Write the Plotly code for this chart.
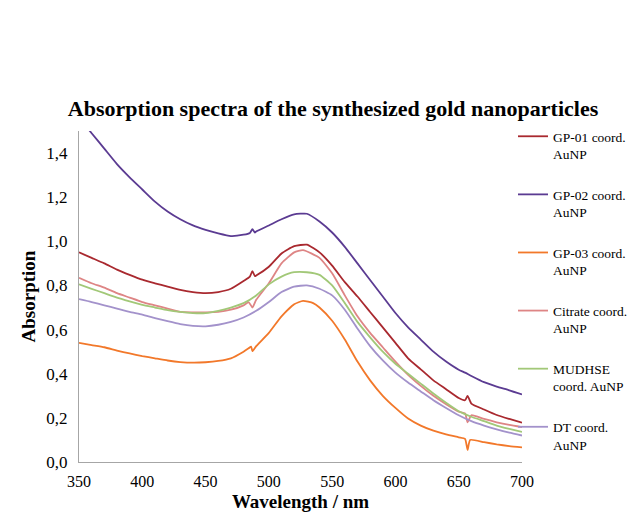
import plotly.graph_objects as go

# ---------------- data ----------------
wl_gp01 = [350, 360, 370, 380, 390, 400, 410, 420, 430, 440, 450, 460, 470, 480, 485, 487, 489, 490,
           500, 510, 520, 530, 540, 550, 560, 570, 580, 590, 600, 610, 620, 630, 640, 650, 655, 657,
           660, 670, 680, 690, 700]
abs_gp01 = [0.95, 0.925, 0.90, 0.872, 0.848, 0.826, 0.81, 0.795, 0.78, 0.77, 0.765, 0.77, 0.785, 0.82, 0.84, 0.865, 0.842, 0.845,
            0.885, 0.945, 0.978, 0.985, 0.95, 0.89, 0.815, 0.75, 0.68, 0.61, 0.54, 0.47, 0.42, 0.37, 0.33, 0.29, 0.28, 0.30,
            0.265, 0.238, 0.213, 0.195, 0.178]

wl_gp02 = [350, 360, 370, 380, 390, 400, 410, 420, 430, 440, 450, 460, 470, 480, 485, 487, 489, 490,
           500, 510, 520, 530, 540, 550, 560, 570, 580, 590, 600, 610, 620, 630, 640, 650, 655, 660,
           670, 680, 690, 700]
abs_gp02 = [1.56, 1.49, 1.42, 1.35, 1.29, 1.235, 1.18, 1.135, 1.10, 1.072, 1.052, 1.036, 1.024, 1.03, 1.038, 1.055, 1.04, 1.045,
            1.072, 1.10, 1.122, 1.125, 1.09, 1.04, 0.975, 0.90, 0.825, 0.75, 0.675, 0.61, 0.555, 0.50, 0.455, 0.418, 0.405, 0.39,
            0.362, 0.342, 0.325, 0.306]

wl_gp03 = [350, 360, 370, 380, 390, 400, 410, 420, 430, 440, 450, 460, 470, 480, 484, 486, 487, 490,
           500, 510, 520, 527, 535, 540, 550, 560, 570, 580, 590, 600, 610, 620, 630, 640, 650, 655, 657,
           659, 670, 680, 690, 700]
abs_gp03 = [0.54, 0.53, 0.52, 0.505, 0.492, 0.48, 0.47, 0.46, 0.453, 0.45, 0.452, 0.458, 0.47, 0.50, 0.515, 0.523, 0.502, 0.525,
            0.585, 0.66, 0.715, 0.73, 0.72, 0.70, 0.64, 0.555, 0.455, 0.37, 0.30, 0.245, 0.197, 0.165, 0.142, 0.125, 0.112, 0.105, 0.055,
            0.10, 0.09, 0.08, 0.072, 0.066]

wl_cit = [350, 360, 370, 380, 390, 400, 410, 420, 430, 440, 450, 460, 470, 480, 484, 487, 490,
          500, 510, 520, 527, 540, 550, 560, 570, 580, 590, 600, 610, 620, 630, 640, 650, 655, 657,
          660, 670, 680, 690, 700]
abs_cit = [0.835, 0.81, 0.79, 0.765, 0.745, 0.725, 0.71, 0.695, 0.68, 0.678, 0.678, 0.68, 0.69, 0.71, 0.725, 0.70, 0.735,
           0.81, 0.90, 0.95, 0.96, 0.925, 0.855, 0.755, 0.66, 0.585, 0.52, 0.455, 0.395, 0.345, 0.30, 0.262, 0.228, 0.22, 0.18,
           0.212, 0.195, 0.18, 0.168, 0.158]

wl_mud = [350, 360, 370, 380, 390, 400, 410, 420, 430, 440, 450, 460, 470, 480, 490,
          500, 510, 520, 530, 540, 550, 560, 570, 580, 590, 600, 610, 620, 630, 640, 650,
          660, 670, 680, 690, 700]
abs_mud = [0.805, 0.785, 0.765, 0.745, 0.728, 0.712, 0.70, 0.688, 0.68, 0.675, 0.675, 0.685, 0.70, 0.72, 0.755,
           0.805, 0.84, 0.86, 0.86, 0.848, 0.80, 0.72, 0.635, 0.565, 0.50, 0.445, 0.40, 0.355, 0.31, 0.268, 0.23,
           0.205, 0.185, 0.165, 0.15, 0.136]

wl_dt = [350, 360, 370, 380, 390, 400, 410, 420, 430, 440, 450, 460, 470, 480, 490,
         500, 510, 520, 530, 540, 550, 560, 570, 580, 590, 600, 610, 620, 630, 640, 650,
         660, 670, 680, 690, 700]
abs_dt = [0.738, 0.725, 0.71, 0.695, 0.68, 0.668, 0.652, 0.638, 0.625, 0.617, 0.615, 0.622, 0.635, 0.655, 0.685,
          0.725, 0.77, 0.795, 0.80, 0.785, 0.755, 0.69, 0.605, 0.525, 0.46, 0.405, 0.36, 0.32, 0.28, 0.245, 0.212,
          0.185, 0.165, 0.148, 0.133, 0.12]

series = [
    ("GP-01 coord.<br>AuNP", wl_gp01, abs_gp01, "#A9292F"),
    ("GP-02 coord.<br>AuNP", wl_gp02, abs_gp02, "#5B3B92"),
    ("GP-03 coord.<br>AuNP", wl_gp03, abs_gp03, "#F2782A"),
    ("Citrate coord.<br>AuNP", wl_cit, abs_cit, "#DE8585"),
    ("MUDHSE<br>coord. AuNP", wl_mud, abs_mud, "#A2C878"),
    ("DT coord.<br>AuNP", wl_dt, abs_dt, "#A392CB"),
]

x_ticks = [350, 400, 450, 500, 550, 600, 650, 700]
y_ticks = [0.0, 0.2, 0.4, 0.6, 0.8, 1.0, 1.2, 1.4]

FONT = "Liberation Serif, Times New Roman, serif"
W, H = 637, 504  # page has an 8px body margin

fig = go.Figure()
for i, (name, x, y, c) in enumerate(series):
    fig.add_trace(go.Scatter(
        x=x, y=y, name=name, mode="lines", legendgroup=f"g{i}",
        line=dict(color=c, width=1.8, shape="spline", smoothing=0.5),
    ))

fig.update_layout(
    width=W, height=H,
    paper_bgcolor="white", plot_bgcolor="white",
    margin=dict(l=71, r=W - 514, t=123, b=50, autoexpand=False),
    separators=",.",
    font=dict(family=FONT, size=16, color="black"),
    title=dict(
        text="<b>Absorption spectra of the synthesized gold nanoparticles</b>",
        font=dict(family=FONT, size=22, color="black"),
        x=325 / W, xref="container", xanchor="center",
        y=1 - 100 / H, yref="container", yanchor="middle",
    ),
    legend=dict(
        x=505 / W, xref="container", xanchor="left",
        y=1 - 113 / H, yref="container", yanchor="top",
        font=dict(family=FONT, size=13.5, color="black"),
        tracegroupgap=20, valign="top", maxheight=420,
        bgcolor="rgba(0,0,0,0)",
    ),
    showlegend=True,
)

fig.update_xaxes(
    range=[350, 700], tickvals=x_ticks, ticks="", showgrid=False, zeroline=False,
    showline=True, linecolor="#A6A6A6", linewidth=1, automargin=False,
    ticklabelstandoff=5,
    tickfont=dict(family=FONT, size=16, color="black"),
    title=dict(text="<b>Wavelength / nm</b>", font=dict(family=FONT, size=19, color="black"), standoff=12),
)
fig.update_yaxes(
    range=[0, 1.5], tickvals=y_ticks, tickformat=".1f", ticks="", showgrid=False, zeroline=False,
    showline=True, linecolor="#A6A6A6", linewidth=1, automargin=False,
    ticklabelstandoff=7,
    tickfont=dict(family=FONT, size=17, color="black"),
    title=dict(text="<b>Absorption</b>", font=dict(family=FONT, size=19, color="black"), standoff=5),
)

fig.write_html("out.html")
